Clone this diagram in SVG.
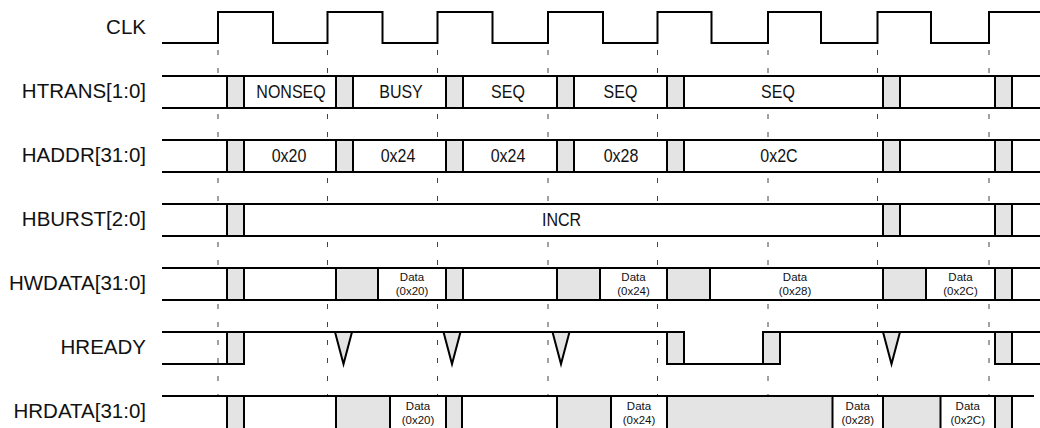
<svg xmlns="http://www.w3.org/2000/svg" width="1040" height="428" viewBox="0 0 1040 428">
<style>
.lbl{font-family:"Liberation Sans",Arial,sans-serif;font-size:20.5px;fill:#111;text-anchor:end}
.val{font-family:"Liberation Sans",Arial,sans-serif;font-size:16px;fill:#111;text-anchor:middle}
.dat{font-family:"Liberation Sans",Arial,sans-serif;font-size:11.5px;fill:#111;text-anchor:middle}
.ln{stroke:#000;stroke-width:2;fill:none}
.bus{fill:#fff;stroke:none}
.tr{fill:#e4e4e4;stroke:#000;stroke-width:2}
.dash{stroke:#444;stroke-width:1;stroke-dasharray:5 13;fill:none}
.v{fill:#e4e4e4;stroke:#000;stroke-width:2;stroke-linejoin:miter}
</style>
<rect width="1040" height="428" fill="#fff"/>
<g id="guides">
<path class="dash" d="M218,50V76M327.5,50V76M437.5,50V76M548,50V76M657.5,50V76M768,50V76M877.5,50V76M989,50V76"/>
<path class="dash" d="M218,114V140M327.5,114V140M437.5,114V140M548,114V140M657.5,114V140M768,114V140M877.5,114V140M989,114V140"/>
<path class="dash" d="M218,178V204M327.5,178V204M437.5,178V204M548,178V204M657.5,178V204M768,178V204M877.5,178V204M989,178V204"/>
<path class="dash" d="M218,242V268M327.5,242V268M437.5,242V268M548,242V268M657.5,242V268M768,242V268M877.5,242V268M989,242V268"/>
<path class="dash" d="M218,304V396M327.5,304V396M437.5,304V396M548,304V396M657.5,304V396M768,304V396M877.5,304V396M989,304V396"/>
</g>
<g id="labels">
<text class="lbl" x="146" y="33.5">CLK</text>
<text class="lbl" x="146" y="97.5">HTRANS[1:0]</text>
<text class="lbl" x="146" y="161.5">HADDR[31:0]</text>
<text class="lbl" x="146" y="225.5">HBURST[2:0]</text>
<text class="lbl" x="146" y="289.5">HWDATA[31:0]</text>
<text class="lbl" x="146" y="353.5">HREADY</text>
<text class="lbl" x="146" y="417.5">HRDATA[31:0]</text>
</g>
<g id="clk">
<path class="ln" d="M162,43H218V12H273V43H327.5V12H382.5V43H437.5V12H492.5V43H548V12H603V43H657.5V12H711.5V43H768V12H821V43H877.5V12H931V43H989V12H1040"/>
</g>
<g id="htrans">
<rect class="bus" x="162" y="76" width="878" height="32"/>
<path class="ln" d="M162,76H1040M162,108H1040"/>
<rect class="tr" x="227" y="76" width="17" height="32"/>
<rect class="tr" x="336" y="76" width="17" height="32"/>
<rect class="tr" x="446" y="76" width="17" height="32"/>
<rect class="tr" x="557" y="76" width="17" height="32"/>
<rect class="tr" x="667" y="76" width="17" height="32"/>
<rect class="tr" x="883" y="76" width="17" height="32"/>
<rect class="tr" x="995" y="76" width="17" height="32"/>
<text class="val" transform="matrix(1 0 0 1.2 291 98)">NONSEQ</text>
<text class="val" transform="matrix(1 0 0 1.2 401 98)">BUSY</text>
<text class="val" transform="matrix(1 0 0 1.2 508 98)">SEQ</text>
<text class="val" transform="matrix(1 0 0 1.2 620.5 98)">SEQ</text>
<text class="val" transform="matrix(1 0 0 1.2 778 98)">SEQ</text>
</g>
<g id="haddr">
<rect class="bus" x="162" y="140" width="878" height="32"/>
<path class="ln" d="M162,140H1040M162,172H1040"/>
<rect class="tr" x="227" y="140" width="17" height="32"/>
<rect class="tr" x="336" y="140" width="17" height="32"/>
<rect class="tr" x="446" y="140" width="17" height="32"/>
<rect class="tr" x="557" y="140" width="17" height="32"/>
<rect class="tr" x="667" y="140" width="17" height="32"/>
<rect class="tr" x="883" y="140" width="17" height="32"/>
<rect class="tr" x="995" y="140" width="17" height="32"/>
<text class="val" transform="matrix(1 0 0 1.2 289 162)">0x20</text>
<text class="val" transform="matrix(1 0 0 1.2 398 162)">0x24</text>
<text class="val" transform="matrix(1 0 0 1.2 508 162)">0x24</text>
<text class="val" transform="matrix(1 0 0 1.2 621 162)">0x28</text>
<text class="val" transform="matrix(1 0 0 1.2 779 162)">0x2C</text>
</g>
<g id="hburst">
<rect class="bus" x="162" y="204" width="878" height="32"/>
<path class="ln" d="M162,204H1040M162,236H1040"/>
<rect class="tr" x="227" y="204" width="17" height="32"/>
<rect class="tr" x="883" y="204" width="17" height="32"/>
<rect class="tr" x="995" y="204" width="17" height="32"/>
<text class="val" transform="matrix(1 0 0 1.2 561.5 226)">INCR</text>
</g>
<g id="hwdata">
<rect class="bus" x="162" y="268" width="878" height="32"/>
<path class="ln" d="M162,268H1040M162,300H1040"/>
<rect class="tr" x="227" y="268" width="17" height="32"/>
<rect class="tr" x="336" y="268" width="42" height="32"/>
<rect class="tr" x="446" y="268" width="17" height="32"/>
<rect class="tr" x="557" y="268" width="43" height="32"/>
<rect class="tr" x="667" y="268" width="43" height="32"/>
<rect class="tr" x="883" y="268" width="43" height="32"/>
<rect class="tr" x="995" y="268" width="17" height="32"/>
<text class="dat" x="412" y="281">Data</text><text class="dat" x="412" y="295">(0x20)</text>
<text class="dat" x="633.5" y="281">Data</text><text class="dat" x="633.5" y="295">(0x24)</text>
<text class="dat" x="795" y="281">Data</text><text class="dat" x="795" y="295">(0x28)</text>
<text class="dat" x="960.5" y="281">Data</text><text class="dat" x="960.5" y="295">(0x2C)</text>
</g>
<g id="hready">
<path class="ln" d="M162,332H667M162,364H244M763,332H1040M667,364H780M995,364H1040"/>
<rect class="tr" x="227" y="332" width="17" height="32"/>
<polygon class="v" points="335,332 343.5,364 352,332"/>
<polygon class="v" points="443.5,332 452,364 460.5,332"/>
<polygon class="v" points="552.5,332 561,364 569.5,332"/>
<rect class="tr" x="667" y="332" width="17" height="32"/>
<rect class="tr" x="763" y="332" width="17" height="32"/>
<polygon class="v" points="883,332 891.5,364 900,332"/>
<rect class="tr" x="995" y="332" width="17" height="32"/>
</g>
<g id="hrdata">
<rect class="bus" x="162" y="396" width="873" height="34"/>
<path class="ln" d="M162,396H1034"/>
<rect class="tr" x="227" y="396" width="17" height="40"/>
<rect class="tr" x="336" y="396" width="54" height="40"/>
<rect class="tr" x="446" y="396" width="16" height="40"/>
<rect class="tr" x="557" y="396" width="54" height="40"/>
<rect class="tr" x="667" y="396" width="165.5" height="40"/>
<rect class="tr" x="883" y="396" width="57.5" height="40"/>
<rect class="tr" x="995" y="396" width="17" height="40"/>
<text class="dat" x="418" y="409.5">Data</text><text class="dat" x="418" y="423.5">(0x20)</text>
<text class="dat" x="639" y="409.5">Data</text><text class="dat" x="639" y="423.5">(0x24)</text>
<text class="dat" x="857.75" y="409.5">Data</text><text class="dat" x="857.75" y="423.5">(0x28)</text>
<text class="dat" x="967.75" y="409.5">Data</text><text class="dat" x="967.75" y="423.5">(0x2C)</text>
</g>
</svg>
